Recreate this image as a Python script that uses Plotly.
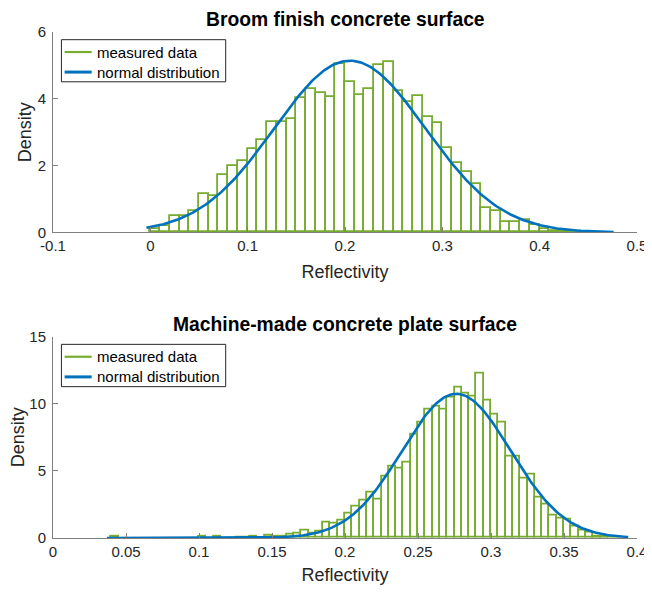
import numpy as np
import plotly.graph_objects as go

# ---------------- data ----------------
# Top: Broom finish concrete surface (bin width 0.01, left edges)
top_bin_width = 0.01
top_bin_left = [0.00, 0.01, 0.02, 0.03, 0.04, 0.05, 0.06, 0.07, 0.08, 0.09,
                0.10, 0.11, 0.12, 0.13, 0.14, 0.15, 0.16, 0.17, 0.18, 0.19,
                0.20, 0.21, 0.22, 0.23, 0.24, 0.25, 0.26, 0.27, 0.28, 0.29,
                0.30, 0.31, 0.32, 0.33, 0.34, 0.35, 0.36, 0.37, 0.38, 0.39,
                0.40, 0.41, 0.42, 0.43, 0.44]
top_density = [0.10, 0.18, 0.48, 0.48, 0.63, 1.15, 1.08, 1.72, 1.98, 2.14,
               2.51, 2.76, 3.32, 3.32, 3.41, 4.03, 4.28, 4.18, 4.06, 5.03,
               4.51, 4.12, 4.29, 5.00, 5.10, 4.23, 3.90, 4.08, 3.46, 3.29,
               2.52, 2.09, 1.82, 1.46, 0.74, 0.63, 0.30, 0.30, 0.37, 0.23,
               0.09, 0.03, 0.03, 0.02, 0.02]
top_mu, top_sigma = 0.205, 0.0776
top_curve_range = (-0.004, 0.476)

# Bottom: Machine-made concrete plate surface (bin width 0.005, left edges)
bot_bin_width = 0.005
bot_bin_left = [0.040, 0.100, 0.110, 0.125, 0.130, 0.135, 0.145, 0.150, 0.155,
                0.160, 0.165, 0.170, 0.175, 0.180, 0.185, 0.190, 0.195,
                0.200, 0.205, 0.210, 0.215, 0.220, 0.225, 0.230, 0.235,
                0.240, 0.245, 0.250, 0.255, 0.260, 0.265, 0.270, 0.275,
                0.280, 0.285, 0.290, 0.295, 0.300, 0.305, 0.310, 0.315,
                0.320, 0.325, 0.330, 0.335, 0.340, 0.345, 0.350, 0.355,
                0.360, 0.365, 0.370, 0.375, 0.380, 0.385]
bot_density = [0.10, 0.10, 0.10, 0.06, 0.06, 0.08, 0.15, 0.10, 0.12,
               0.25, 0.32, 0.57, 0.32, 0.50, 1.11, 1.10, 1.30,
               1.78, 2.35, 2.75, 3.37, 2.87, 4.55, 5.33, 5.20,
               5.58, 7.69, 8.60, 9.55, 9.75, 9.55, 10.49, 11.23,
               10.74, 10.54, 12.28, 10.22, 9.17, 8.60, 6.07, 6.07,
               4.46, 4.74, 3.00, 2.48, 1.66, 1.41, 1.36, 0.82,
               0.57, 0.42, 0.12, 0.07, 0.04, 0.02]
bot_mu, bot_sigma = 0.2763, 0.03715
bot_curve_range = (0.037, 0.394)

top_xticks = [-0.1, 0, 0.1, 0.2, 0.3, 0.4, 0.5]
top_xtick_labels = ["-0.1", "0", "0.1", "0.2", "0.3", "0.4", "0.5"]
top_yticks = [0, 2, 4, 6]
bot_xticks = [0, 0.05, 0.1, 0.15, 0.2, 0.25, 0.3, 0.35, 0.4]
bot_xtick_labels = ["0", "0.05", "0.1", "0.15", "0.2", "0.25", "0.3", "0.35", "0.4"]
bot_yticks = [0, 5, 10, 15]

titles = ["Broom finish concrete surface", "Machine-made concrete plate surface"]
series_names = ["measured data", "normal distribution"]

GREEN = "#77AC30"
BLUE = "#0072BD"
AXC = "#808080"
TXT = "#262626"
FONT = "Liberation Sans, Arial, Helvetica, sans-serif"
TICK_SIZE = 15
LABEL_SIZE = 18
TITLE_SIZE = 19.3
LEGEND_SIZE = 15


def normal_pdf(x, mu, s):
    return np.exp(-0.5 * ((x - mu) / s) ** 2) / (s * np.sqrt(2 * np.pi))


fig = go.Figure()

panels = [
    (top_bin_left, top_density, top_bin_width, top_mu, top_sigma, top_curve_range, "x", "y"),
    (bot_bin_left, bot_density, bot_bin_width, bot_mu, bot_sigma, bot_curve_range, "x2", "y2"),
]
for left, dens, w, mu, s, cr, xa, ya in panels:
    fig.add_trace(go.Bar(
        x=left, y=dens, width=w, offset=0, xaxis=xa, yaxis=ya,
        marker=dict(color="white", line=dict(color=GREEN, width=1.8)),
        name=series_names[0], showlegend=False, hoverinfo="skip"))
    xc = np.linspace(cr[0], cr[1], 300)
    fig.add_trace(go.Scatter(
        x=xc, y=normal_pdf(xc, mu, s), mode="lines", xaxis=xa, yaxis=ya,
        line=dict(color=BLUE, width=2.6), name=series_names[1],
        showlegend=False, hoverinfo="skip"))

# MATLAB-style legend box in each panel (drawn in axis-domain coordinates)
shapes = []
annotations = []
leg_colors = [GREEN, BLUE]
leg_widths = [2.2, 3]
for xa, ya in [("x", "y"), ("x2", "y2")]:
    xr, yr = xa + " domain", ya + " domain"
    shapes.append(dict(type="rect", xref=xr, yref=yr, x0=0.0144, x1=0.2957,
                       y0=0.7515, y1=0.9616, line=dict(color="#262626", width=1),
                       fillcolor="white", layer="above"))
    for i, (yy, name) in enumerate(zip([0.900, 0.800], series_names)):
        shapes.append(dict(type="line", xref=xr, yref=yr, x0=0.0199, x1=0.0662,
                           y0=yy, y1=yy, line=dict(color=leg_colors[i], width=leg_widths[i]),
                           layer="above"))
        annotations.append(dict(text=name, xref=xr, yref=yr, x=0.0725, y=yy,
                                xanchor="left", yanchor="middle", showarrow=False,
                                font=dict(size=LEGEND_SIZE, color="black", family=FONT)))

annotations += [
    dict(text="<b>" + titles[0] + "</b>", x=0.5, y=1.0, xref="paper", yref="paper",
         xanchor="center", yanchor="bottom", yshift=0, showarrow=False,
         font=dict(size=TITLE_SIZE, color="black", family=FONT)),
    dict(text="<b>" + titles[1] + "</b>", x=0.5, y=0.398, xref="paper", yref="paper",
         xanchor="center", yanchor="bottom", yshift=0, showarrow=False,
         font=dict(size=TITLE_SIZE, color="black", family=FONT)),
]

axis_common = dict(showline=True, linecolor=AXC, linewidth=1, ticks="inside",
                   ticklen=5, tickcolor=AXC, showgrid=False, zeroline=False,
                   automargin=False,
                   tickfont=dict(size=TICK_SIZE, color=TXT, family=FONT), mirror=False)
xlab = dict(text="Reflectivity", font=dict(size=LABEL_SIZE, color=TXT), standoff=12)
ylab = dict(text="Density", font=dict(size=LABEL_SIZE, color=TXT), standoff=1)

# page body has an 8px margin: size the figure so the plot areas land where the reference has them
fig.update_layout(
    width=644, height=577, autosize=False,
    margin=dict(l=45, r=15, t=24, b=47),
    plot_bgcolor="white", paper_bgcolor="white",
    barmode="overlay", bargap=0, showlegend=False,
    font=dict(family=FONT, color=TXT),
    xaxis=dict(domain=[0, 1], range=[-0.1, 0.5], anchor="y",
               tickvals=top_xticks, ticktext=top_xtick_labels, title=xlab, **axis_common),
    yaxis=dict(domain=[0.604, 1], range=[0, 6], anchor="x", tickvals=top_yticks,
               title=ylab, ticklabelstandoff=3, **axis_common),
    xaxis2=dict(domain=[0, 1], range=[0, 0.4], anchor="y2",
                tickvals=bot_xticks, ticktext=bot_xtick_labels, title=xlab, **axis_common),
    yaxis2=dict(domain=[0, 0.398], range=[0, 15], anchor="x2", tickvals=bot_yticks,
                title=ylab, ticklabelstandoff=3, **axis_common),
    shapes=shapes,
    annotations=annotations,
)

fig.write_html("out.html")
